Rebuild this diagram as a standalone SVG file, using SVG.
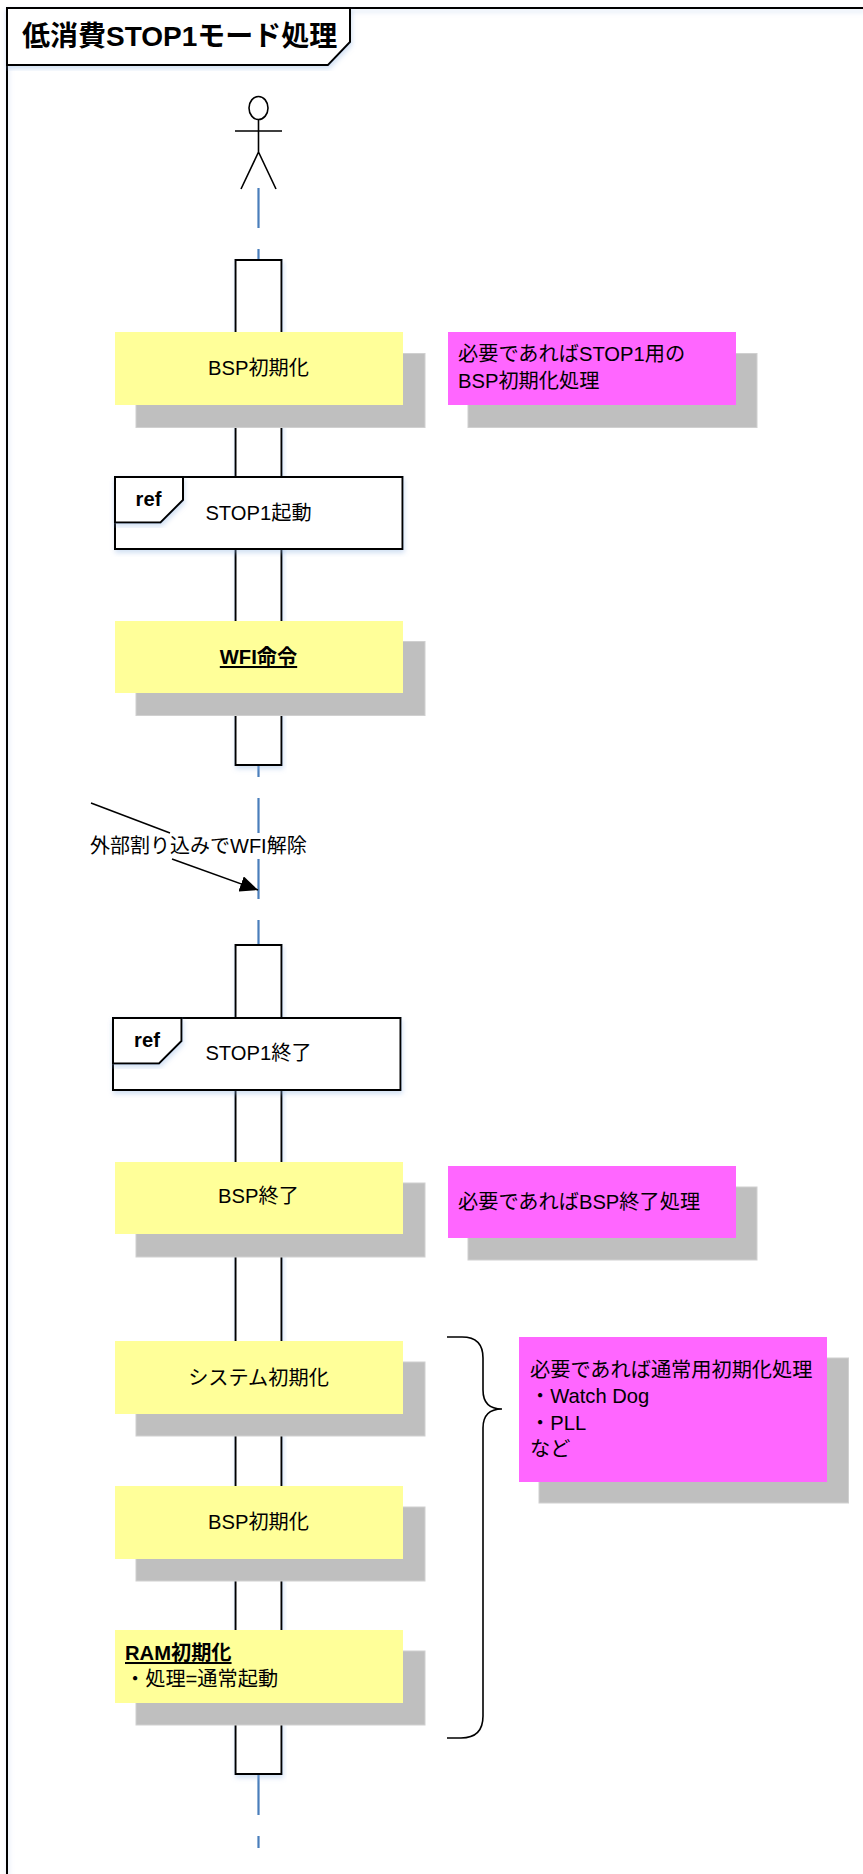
<svg xmlns="http://www.w3.org/2000/svg" width="863" height="1874" viewBox="0 0 863 1874">
<style>
text{font-family:"Liberation Sans","Noto Sans CJK JP",sans-serif;font-size:20.2px;fill:#000}
.c{text-anchor:middle}
.b{font-weight:bold}
.u{text-decoration:underline}
.ln{fill:none;stroke:#000;stroke-width:2}
.box{fill:#fff;stroke:#000;stroke-width:2}
.life{fill:none;stroke:#4a7ebb;stroke-width:2.2}
.sh{fill:#bfbfbf;stroke:#d0d0d0;stroke-width:1}
.y{fill:#ffff99}
.m{fill:#ff66ff}
</style>
<defs>
<filter id="glow" x="-10%" y="-10%" width="120%" height="120%"><feDropShadow dx="1" dy="3" stdDeviation="2.5" flood-color="#8fb4e3" flood-opacity="0.4"/></filter>
<marker id="arr" markerUnits="userSpaceOnUse" markerWidth="20" markerHeight="16" refX="18" refY="8" orient="auto"><path d="M0 0L18 8L0 16z" fill="#000"/></marker>
</defs>
<g id="frame">
<path class="ln" d="M864 8H7V1875" filter="url(#glow)"/>
<path class="box" d="M7 8H350V42L328 65H7z" filter="url(#glow)"/>
<text class="b" x="22" y="46" style="font-size:28px">低消費STOP1モード処理</text>
</g>
<g id="connectors">
<path class="life" style="stroke-dasharray:40 21" d="M258.5 188V260"/>
<path class="life" style="stroke-dasharray:12 21 40 21 40 21 25" d="M258.5 765V945"/>
<path class="life" style="stroke-dasharray:40 21 12" d="M258.5 1775V1848"/>
<rect x="90" y="833" width="220" height="26" fill="#fff"/>
<path d="M91 803L170 833" fill="none" stroke="#000" stroke-width="1.5"/>
<path d="M172 859L258 890" fill="none" stroke="#000" stroke-width="1.5" marker-end="url(#arr)"/>
<text x="90" y="853" style="font-size:20px">外部割り込みでWFI解除</text>
<path class="ln" style="stroke-width:1.6" d="M447 1337H462Q483 1337 483 1358V1390Q483 1409 502 1409Q483 1409 483 1428V1716Q483 1738 461 1738H447"/>
</g>
<g id="actor" fill="none" stroke="#000" stroke-width="1.6">
<ellipse cx="258.500" cy="108" rx="9.500" ry="11.500" fill="#fff"/>
<path d="M258.500 120V152M235 131H282M258.500 152L241 189M258.500 152L276 189"/>
</g>
<g id="activation1"><rect class="box" x="235.500" y="260" width="46" height="505" filter="url(#glow)"/></g>
<g id="activation2"><rect class="box" x="235.500" y="945" width="46" height="829" filter="url(#glow)"/></g>
<g id="bsp-init-1"><rect class="sh" x="136" y="353.500" width="289" height="74"/><rect class="y" x="115" y="332" width="288" height="73"/><text class="c" x="258.500" y="375">BSP初期化</text></g>
<g id="note-1"><rect class="sh" x="468" y="353.500" width="289" height="74"/><rect class="m" x="448" y="332" width="288" height="73"/><text x="458" y="361">必要であればSTOP1用の</text><text x="458" y="388">BSP初期化処理</text></g>
<g id="ref-start"><rect class="box" x="115" y="477" width="287.500" height="72" filter="url(#glow)"/><path class="box" d="M115 477H183V500L160.500 522.500H115z" filter="url(#glow)"/><text class="c b" x="148.500" y="506">ref</text><text class="c" x="258.500" y="520">STOP1起動</text></g>
<g id="wfi"><rect class="sh" x="136" y="641.500" width="289" height="74"/><rect class="y" x="115" y="621" width="288" height="72"/><text class="c b u" x="258.500" y="664">WFI命令</text></g>
<g id="ref-end"><rect class="box" x="113" y="1018" width="287.500" height="72" filter="url(#glow)"/><path class="box" d="M113 1018H181.500V1041L159 1063.500H113z" filter="url(#glow)"/><text class="c b" x="147" y="1047">ref</text><text class="c" x="258.500" y="1060">STOP1終了</text></g>
<g id="bsp-end"><rect class="sh" x="136" y="1183" width="289" height="74"/><rect class="y" x="115" y="1162" width="288" height="72"/><text class="c" x="258.500" y="1203">BSP終了</text></g>
<g id="note-2"><rect class="sh" x="468" y="1187" width="289" height="73"/><rect class="m" x="448" y="1166" width="288" height="72"/><text x="458" y="1209">必要であればBSP終了処理</text></g>
<g id="sys-init"><rect class="sh" x="136" y="1362" width="289" height="74"/><rect class="y" x="115" y="1341" width="288" height="73"/><text class="c" x="258.500" y="1385">システム初期化</text></g>
<g id="bsp-init-2"><rect class="sh" x="136" y="1507" width="289" height="74"/><rect class="y" x="115" y="1486" width="288" height="73"/><text class="c" x="258.500" y="1529">BSP初期化</text></g>
<g id="ram-init"><rect class="sh" x="136" y="1651" width="289" height="74"/><rect class="y" x="115" y="1630" width="288" height="73"/><text class="b u" x="125" y="1660">RAM初期化</text><text x="125" y="1686">・処理=通常起動</text></g>
<g id="note-3"><rect class="sh" x="539" y="1358" width="309.500" height="145"/><rect class="m" x="519" y="1337" width="308" height="145"/><text x="530" y="1377">必要であれば通常用初期化処理</text><text x="530" y="1403">・Watch Dog</text><text x="530" y="1430">・PLL</text><text x="530" y="1456">など</text></g>
</svg>
